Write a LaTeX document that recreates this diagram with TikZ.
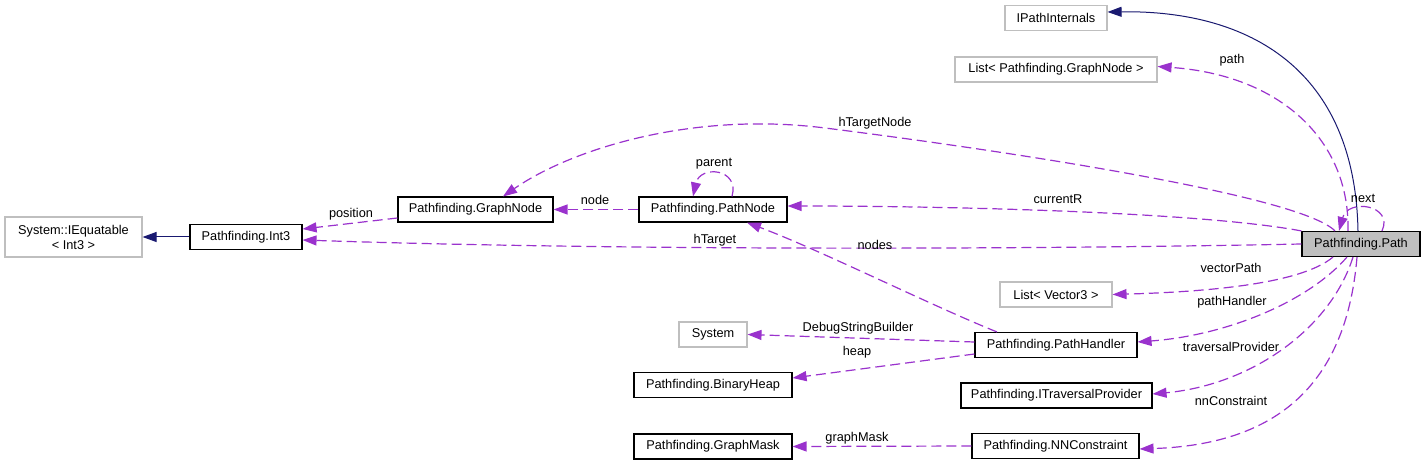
\documentclass[tikz,border=0pt]{standalone}
\usepackage{fontspec}
\setmainfont{Liberation Sans}
\usetikzlibrary{arrows.meta}
\definecolor{dox-purple}{RGB}{154,50,205}
\definecolor{dox-navy}{RGB}{25,25,112}
\definecolor{dox-grey}{RGB}{191,191,191}

\begin{document}
\begin{tikzpicture}[x=1pt, y=-1pt, font=\fontsize{12.75}{15}\selectfont,
    cls/.style={draw, line width=1.1pt, fill=white, minimum height=25pt, inner sep=0},
    ext/.style={cls, draw=dox-grey},
    lbl/.style={inner sep=0},
    mbr/.style={draw=dox-purple, line width=1.2pt, dash pattern=on 10pt off 5pt,
        -{Triangle[length=14pt,width=10pt]}},
    inh/.style={draw=dox-navy, line width=1pt, -{Triangle[length=14pt,width=10pt]}}]

    \useasboundingbox (0,0) rectangle (1425,465);

    % Classes
    \node[ext, minimum width=102pt] (ipath) at (1056,18) {IPathInternals};
    \node[ext, minimum width=202pt] (listgn) at (1056,69.5) {List< Pathfinding.GraphNode >};
    \node[ext, minimum width=137pt, minimum height=40pt, align=center]
        (iequat) at (73.5,237) {System::IEquatable\\< Int3 >};
    \node[cls, minimum width=112pt] (int3) at (246,237) {Pathfinding.Int3};
    \node[cls, minimum width=155pt] (gnode) at (475.5,209.5) {Pathfinding.GraphNode};
    \node[cls, minimum width=148pt] (pnode) at (713,209.5) {Pathfinding.PathNode};
    \node[cls, minimum width=118pt, fill=dox-grey] (path) at (1361,244) {Pathfinding.Path};
    \node[ext, minimum width=112pt] (listv3) at (1056,294.5) {List< Vector3 >};
    \node[ext, minimum width=68pt] (system) at (713,334.5) {System};
    \node[cls, minimum width=162pt] (handler) at (1056,345) {Pathfinding.PathHandler};
    \node[cls, minimum width=158pt] (heap) at (713,385) {Pathfinding.BinaryHeap};
    \node[cls, minimum width=191pt] (travprov) at (1056.5,395.5) {Pathfinding.ITraversalProvider};
    \node[cls, minimum width=158pt] (gmask) at (713,446.5) {Pathfinding.GraphMask};
    \node[cls, minimum width=167pt] (nnc) at (1055.5,446) {Pathfinding.NNConstraint};

    % Inheritance
    \draw[inh] (int3.west) -- (iequat.east);
    \draw[inh] ([xshift=-3pt]path.north) .. controls (1355,70) and (1250,10) .. ([yshift=6pt]ipath.east);

    % Members of Path
    \draw[mbr] ([xshift=-13pt]path.north) .. controls (1350,140) and (1280,75) .. ([yshift=3pt]listgn.east);
    \draw[mbr] ([xshift=-26pt]path.north) .. controls (1300,195) and (1000,150) .. (825,128)
        .. controls (690,111) and (570,150) .. ([xshift=27.5pt]gnode.north);
    \draw[mbr] ([xshift=21pt]path.north) .. controls (1394,205) and (1348,198) .. ([xshift=-22pt]path.north);
    \draw[mbr] (path.north west) .. controls (1200,212) and (950,206) .. ([yshift=3.5pt]pnode.east);
    \draw[mbr] (path.west) .. controls (1000,250) and (600,250) .. ([yshift=-3pt]int3.east);
    \draw[mbr] ([xshift=-28pt]path.south) .. controls (1300,285) and (1200,292) .. (listv3.east);
    \draw[mbr] ([xshift=-14pt]path.south) .. controls (1310,300) and (1230,335) .. ([yshift=3pt]handler.east);
    \draw[mbr] ([xshift=-8pt]path.south) .. controls (1330,330) and (1250,385) .. ([yshift=1.5pt]travprov.east);
    \draw[mbr] ([xshift=-4pt]path.south) .. controls (1345,400) and (1260,445) .. ([yshift=-3pt]nnc.east);

    % Other members
    \draw[mbr] ([yshift=-8.5pt]gnode.west) -- ([yshift=8pt]int3.east);
    \draw[mbr] (pnode.west) -- (gnode.east);
    \draw[mbr] ([xshift=19pt]pnode.north) .. controls (740,168) and (700,165) .. ([xshift=-20pt]pnode.north);
    \draw[mbr] ([xshift=-59pt]handler.north) .. controls (930,305) and (820,250) .. ([xshift=34pt]pnode.south);
    \draw[mbr] ([yshift=3pt]handler.west) -- (system.east);
    \draw[mbr] ([yshift=-9pt]handler.west) -- ([yshift=7pt]heap.east);
    \draw[mbr] (nnc.west) -- (gmask.east);

    % Labels
    \node[lbl] (l-path) at (1232,60) {path};
    \node[lbl] (l-htargetnode) at (875,123) {hTargetNode};
    \node[lbl] (l-parent) at (714,164) {parent};
    \node[lbl] (l-next) at (1363,198) {next};
    \node[lbl] (l-position) at (351,214) {position};
    \node[lbl] (l-node) at (595,200) {node};
    \node[lbl] (l-currentr) at (1058,199) {currentR};
    \node[lbl] (l-htarget) at (715,240) {hTarget};
    \node[lbl] (l-nodes) at (875,245) {nodes};
    \node[lbl] (l-vectorpath) at (1231,268) {vectorPath};
    \node[lbl] (l-pathhandler) at (1232,302) {pathHandler};
    \node[lbl] (l-debug) at (858,328) {DebugStringBuilder};
    \node[lbl] (l-traversal) at (1231,347) {traversalProvider};
    \node[lbl] (l-heap) at (857,352) {heap};
    \node[lbl] (l-nnconstraint) at (1231,401) {nnConstraint};
    \node[lbl] (l-graphmask) at (857,438) {graphMask};

\end{tikzpicture}
\end{document}
